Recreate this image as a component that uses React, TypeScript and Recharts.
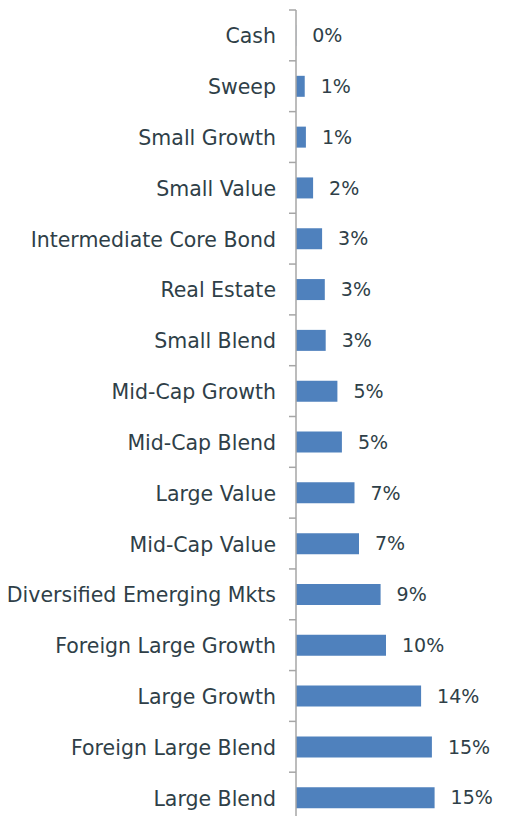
import { BarChart, Bar, XAxis, YAxis, LabelList } from "recharts";

const categories = [
  "Cash",
  "Sweep",
  "Small Growth",
  "Small Value",
  "Intermediate Core Bond",
  "Real Estate",
  "Small Blend",
  "Mid-Cap Growth",
  "Mid-Cap Blend",
  "Large Value",
  "Mid-Cap Value",
  "Diversified Emerging Mkts",
  "Foreign Large Growth",
  "Large Growth",
  "Foreign Large Blend",
  "Large Blend",
];

const weights = [0.02, 0.97, 1.1, 1.9, 2.9, 3.2, 3.3, 4.6, 5.1, 6.5, 7.0, 9.4, 10.0, 13.9, 15.1, 15.4];

const xDomain = [0, 20];

const data = categories.map((name, i) => ({ name, value: weights[i] }));

const WIDTH = 506;
const HEIGHT = 830;
const MARGIN = { top: 10, right: 30, bottom: 7, left: 0 };
const AXIS_W = 296;
const TEXT = "#2f3f48";
const FONT = "DejaVu Sans";

const band = (HEIGHT - MARGIN.top - MARGIN.bottom) / categories.length;
const axisX = MARGIN.left + AXIS_W;

const CategoryTick = (props: any) => {
  const { x, y, payload, index } = props;
  const last = index === categories.length - 1;
  return (
    <g>
      <line x1={axisX - 7} x2={axisX} y1={y - band / 2} y2={y - band / 2} stroke="#a6a6a6" strokeWidth={1.5} />
      {last && (
        <line x1={axisX - 7} x2={axisX} y1={y + band / 2} y2={y + band / 2} stroke="#a6a6a6" strokeWidth={1.5} />
      )}
      <text x={x} y={y} dy={8} textAnchor="end" fill={TEXT} fontSize={20.5} fontFamily={FONT}>
        {payload.value}
      </text>
    </g>
  );
};

export default function App() {
  return (
    <div
      style={{
        position: "fixed",
        top: 0,
        left: 0,
        width: WIDTH,
        height: 816,
        overflow: "hidden",
        background: "#fff",
      }}
    >
      <BarChart width={WIDTH} height={HEIGHT} data={data} layout="vertical" margin={MARGIN}>
        <XAxis type="number" domain={xDomain} hide />
        <YAxis
          type="category"
          dataKey="name"
          width={AXIS_W}
          tickSize={7}
          tickMargin={13}
          tickLine={false}
          axisLine={{ stroke: "#a6a6a6", strokeWidth: 1.5 }}
          tick={<CategoryTick />}
          interval={0}
        />
        <Bar dataKey="value" fill="#4f81bd" barSize={21} isAnimationActive={false}>
          <LabelList
            dataKey="value"
            position="right"
            offset={16}
            formatter={(v: any) => `${Math.round(Number(v))}%`}
            fill={TEXT}
            fontSize={19}
            fontFamily={FONT}
          />
        </Bar>
      </BarChart>
    </div>
  );
}
